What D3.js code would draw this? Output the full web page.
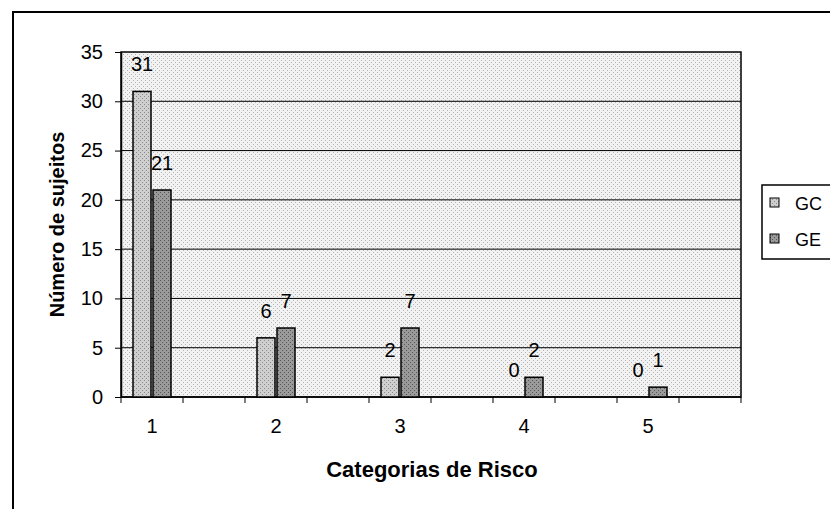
<!DOCTYPE html>
<html>
<head>
<meta charset="utf-8">
<script src="https://cdn.jsdelivr.net/npm/d3@7"></script>
<style>
  body { margin: 0; background: #fff; }
  text { font-family: "Liberation Sans", Arial, sans-serif; fill: #000; }
  .title { font-weight: bold; }
</style>
</head>
<body>
<svg id="chart"></svg>
<script>
// chart values
const categories = ["1", "2", "3", "4", "5"];
const seriesNames = ["GC", "GE"];
const gcValues = [31, 6, 2, 0, 0];
const geValues = [21, 7, 7, 2, 1];
const yTicks = [0, 5, 10, 15, 20, 25, 30, 35];

const width = 830, height = 509;
const margin = { top: 52, right: 89, bottom: 112, left: 121 };
const innerW = width - margin.left - margin.right;
const innerH = height - margin.top - margin.bottom;

const svg = d3.select("#chart").attr("width", width).attr("height", height);

// stipple-ish fills
const defs = svg.append("defs");
function stipple(id, base, dot) {
  const p = defs.append("pattern").attr("id", id)
    .attr("width", 4).attr("height", 4).attr("patternUnits", "userSpaceOnUse");
  p.append("rect").attr("width", 4).attr("height", 4).attr("fill", base);
  p.append("rect").attr("x", 0).attr("y", 0).attr("width", 1).attr("height", 1).attr("fill", dot);
  p.append("rect").attr("x", 2).attr("y", 2).attr("width", 1).attr("height", 1).attr("fill", dot);
}
stipple("bgFill", "#f2f2f2", "#b4b4b4");
stipple("gcFill", "#cfcfcf", "#8a8a8a");
stipple("geFill", "#9a9a9a", "#555");

// outer chart frame (runs off the page right and bottom, like the scan)
svg.append("path")
  .attr("d", `M13,${height + 5} L13,12 L${width + 5},12`)
  .attr("fill", "none").attr("stroke", "#000").attr("stroke-width", 2);

const g = svg.append("g").attr("transform", `translate(${margin.left},${margin.top})`);

// one empty slot after each category, Excel style
const slots = [];
categories.forEach(c => { slots.push(c); slots.push("_" + c); });

const x = d3.scaleBand().domain(slots).range([0, innerW]).padding(0);
const xSub = d3.scaleBand().domain(seriesNames).range([-19, 19]).paddingInner(0.1);
const y = d3.scaleLinear().domain([0, 35]).range([innerH, 0]);

// plot area
g.append("rect").attr("width", innerW).attr("height", innerH)
  .attr("fill", "url(#bgFill)").attr("stroke", "#000").attr("stroke-width", 1.5);

// gridlines
g.append("g").selectAll("line").data(yTicks.filter(t => t > 0 && t < 35)).join("line")
  .attr("x1", 0).attr("x2", innerW)
  .attr("y1", d => y(d)).attr("y2", d => y(d))
  .attr("stroke", "#000").attr("stroke-width", 1);

// y axis
const yAxis = d3.axisLeft(y).tickValues(yTicks).tickSize(6).tickSizeOuter(0).tickPadding(12);
const yG = g.append("g").call(yAxis);
yG.select(".domain").attr("stroke", "#000").attr("stroke-width", 1.5);
yG.selectAll("text").style("font-size", "20px").style("font-family", "Liberation Sans, Arial, sans-serif");

// x axis: tick marks at slot boundaries, labels at category centres
const xG = g.append("g").attr("transform", `translate(0,${innerH})`);
xG.append("line").attr("x1", 0).attr("x2", innerW).attr("stroke", "#000").attr("stroke-width", 1.5);
const bounds = slots.map(s => x(s)).concat([innerW]);
xG.selectAll("line.tick").data(bounds).join("line").attr("class", "tick")
  .attr("x1", d => d).attr("x2", d => d).attr("y1", 0).attr("y2", 6)
  .attr("stroke", "#000");
xG.selectAll("text").data(categories).join("text")
  .attr("x", d => x(d) + x.bandwidth() / 2)
  .attr("y", 36)
  .attr("text-anchor", "middle")
  .style("font-size", "20px")
  .text(d => d);

// bars
const rows = categories.map((c, i) => ({ cat: c, values: [
  { key: "GC", value: gcValues[i] },
  { key: "GE", value: geValues[i] }
]}));

const groups = g.append("g").selectAll("g").data(rows).join("g")
  .attr("transform", d => `translate(${x(d.cat) + x.bandwidth() / 2},0)`);

groups.selectAll("rect").data(d => d.values.filter(v => v.value > 0)).join("rect")
  .attr("x", d => xSub(d.key))
  .attr("y", d => y(d.value))
  .attr("width", xSub.bandwidth())
  .attr("height", d => innerH - y(d.value))
  .attr("fill", d => d.key === "GC" ? "url(#gcFill)" : "url(#geFill)")
  .attr("stroke", "#000").attr("stroke-width", 1.5);

groups.selectAll("text").data(d => d.values).join("text")
  .attr("x", d => xSub(d.key) + xSub.bandwidth() / 2)
  .attr("y", d => y(d.value) - 20)
  .attr("text-anchor", "middle")
  .style("font-size", "20px")
  .text(d => d.value);

// axis titles
svg.append("text").attr("class", "title")
  .attr("transform", `translate(64,${margin.top + innerH / 2}) rotate(-90)`)
  .attr("text-anchor", "middle")
  .style("font-size", "20px")
  .text("Número de sujeitos");

svg.append("text").attr("class", "title")
  .attr("x", 432).attr("y", 477)
  .attr("text-anchor", "middle")
  .style("font-size", "22px")
  .text("Categorias de Risco");

// legend
const leg = svg.append("g").attr("transform", "translate(762,185)");
leg.append("rect").attr("width", 90).attr("height", 74)
  .attr("fill", "#fff").attr("stroke", "#000").attr("stroke-width", 1.5);
seriesNames.forEach((s, i) => {
  const ly = 18 + i * 36;
  leg.append("rect").attr("x", 8).attr("y", ly - 5).attr("width", 9).attr("height", 9)
    .attr("fill", s === "GC" ? "url(#gcFill)" : "url(#geFill)")
    .attr("stroke", "#000").attr("stroke-width", 1);
  leg.append("text").attr("x", 33).attr("y", ly + 7)
    .style("font-size", "18px").text(s);
});
</script>
</body>
</html>
